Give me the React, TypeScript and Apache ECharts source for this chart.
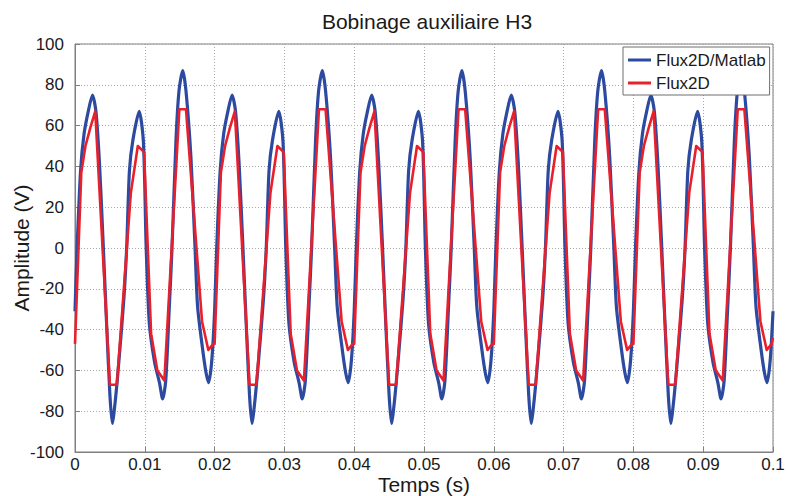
import React, { useEffect, useRef } from 'react';
import * as echarts from 'echarts';

const chartTitle = 'Bobinage auxiliaire H3';
const xAxisName = 'Temps (s)';
const yAxisName = 'Amplitude (V)';
const seriesNames = ['Flux2D/Matlab', 'Flux2D'];

// Flux2D/Matlab (blue) — [time (s), amplitude (V)]
const fluxMatlab: [number, number][] = [
  [0.0000,-31],[0.0003,0],[0.0008,38],[0.0013,56],[0.0019,67],[0.0025,75],[0.0030,67],[0.0035,42],[0.0040,5],[0.0045,-35],[0.0050,-72],[0.00535,-86],[0.0058,-74],[0.0063,-55],[0.0070,-25],[0.0074,0],[0.0078,38],[0.0083,53],[0.0092,67],[0.0098,52],[0.0102,0],[0.01065,-37],[0.0114,-56],[0.0121,-66],[0.01256,-74],[0.0130,-65],[0.01351,-29],[0.0139,0],[0.01447,53],[0.0149,77],[0.01543,87],[0.0159,77],[0.0166,45],[0.0172,0],[0.01757,-29],[0.0183,-50],[0.01877,-61],[0.01915,-66],[0.0196,-55],
  [0.0200,-31],[0.0203,0],[0.0208,38],[0.0213,56],[0.0219,67],[0.0225,75],[0.0230,67],[0.0235,42],[0.0240,5],[0.0245,-35],[0.0250,-72],[0.02535,-86],[0.0258,-74],[0.0263,-55],[0.0270,-25],[0.0274,0],[0.0278,38],[0.0283,53],[0.0292,67],[0.0298,52],[0.0302,0],[0.03065,-37],[0.0314,-56],[0.0321,-66],[0.03256,-74],[0.0330,-65],[0.03351,-29],[0.0339,0],[0.03447,53],[0.0349,77],[0.03543,87],[0.0359,77],[0.0366,45],[0.0372,0],[0.03757,-29],[0.0383,-50],[0.03877,-61],[0.03915,-66],[0.0396,-55],
  [0.0400,-31],[0.0403,0],[0.0408,38],[0.0413,56],[0.0419,67],[0.0425,75],[0.0430,67],[0.0435,42],[0.0440,5],[0.0445,-35],[0.0450,-72],[0.04535,-86],[0.0458,-74],[0.0463,-55],[0.0470,-25],[0.0474,0],[0.0478,38],[0.0483,53],[0.0492,67],[0.0498,52],[0.0502,0],[0.05065,-37],[0.0514,-56],[0.0521,-66],[0.05256,-74],[0.0530,-65],[0.05351,-29],[0.0539,0],[0.05447,53],[0.0549,77],[0.05543,87],[0.0559,77],[0.0566,45],[0.0572,0],[0.05757,-29],[0.0583,-50],[0.05877,-61],[0.05915,-66],[0.0596,-55],
  [0.0600,-31],[0.0603,0],[0.0608,38],[0.0613,56],[0.0619,67],[0.0625,75],[0.0630,67],[0.0635,42],[0.0640,5],[0.0645,-35],[0.0650,-72],[0.06535,-86],[0.0658,-74],[0.0663,-55],[0.0670,-25],[0.0674,0],[0.0678,38],[0.0683,53],[0.0692,67],[0.0698,52],[0.0702,0],[0.07065,-37],[0.0714,-56],[0.0721,-66],[0.07256,-74],[0.0730,-65],[0.07351,-29],[0.0739,0],[0.07447,53],[0.0749,77],[0.07543,87],[0.0759,77],[0.0766,45],[0.0772,0],[0.07757,-29],[0.0783,-50],[0.07877,-61],[0.07915,-66],[0.0796,-55],
  [0.0800,-31],[0.0803,0],[0.0808,38],[0.0813,56],[0.0819,67],[0.0825,75],[0.0830,67],[0.0835,42],[0.0840,5],[0.0845,-35],[0.0850,-72],[0.08535,-86],[0.0858,-74],[0.0863,-55],[0.0870,-25],[0.0874,0],[0.0878,38],[0.0883,53],[0.0892,67],[0.0898,52],[0.0902,0],[0.09065,-37],[0.0914,-56],[0.0921,-66],[0.09256,-74],[0.0930,-65],[0.09351,-29],[0.0939,0],[0.09447,53],[0.0949,77],[0.09543,87],[0.0959,77],[0.0966,45],[0.0972,0],[0.09757,-29],[0.0983,-50],[0.09877,-61],[0.09915,-66],[0.0996,-55],[0.1000,-31],
];

// Flux2D (red) — [time (s), amplitude (V)]
const flux2D: [number, number][] = [
  [0.0000,-47],[0.0009,37],[0.0015,50],[0.0022,59],[0.0029,67],[0.0050,-67],[0.0060,-67],[0.0080,27],[0.0090,50],[0.0099,47],[0.0109,-42],[0.0118,-60],[0.0128,-65],[0.01495,68],[0.0159,68],[0.0182,-36],[0.0191,-50],[0.0198,-47],
  [0.0200,-47],[0.0209,37],[0.0215,50],[0.0222,59],[0.0229,67],[0.0250,-67],[0.0260,-67],[0.0280,27],[0.0290,50],[0.0299,47],[0.0309,-42],[0.0318,-60],[0.0328,-65],[0.03495,68],[0.0359,68],[0.0382,-36],[0.0391,-50],[0.0398,-47],
  [0.0400,-47],[0.0409,37],[0.0415,50],[0.0422,59],[0.0429,67],[0.0450,-67],[0.0460,-67],[0.0480,27],[0.0490,50],[0.0499,47],[0.0509,-42],[0.0518,-60],[0.0528,-65],[0.05495,68],[0.0559,68],[0.0582,-36],[0.0591,-50],[0.0598,-47],
  [0.0600,-47],[0.0609,37],[0.0615,50],[0.0622,59],[0.0629,67],[0.0650,-67],[0.0660,-67],[0.0680,27],[0.0690,50],[0.0699,47],[0.0709,-42],[0.0718,-60],[0.0728,-65],[0.07495,68],[0.0759,68],[0.0782,-36],[0.0791,-50],[0.0798,-47],
  [0.0800,-47],[0.0809,37],[0.0815,50],[0.0822,59],[0.0829,67],[0.0850,-67],[0.0860,-67],[0.0880,27],[0.0890,50],[0.0899,47],[0.0909,-42],[0.0918,-60],[0.0928,-65],[0.09495,68],[0.0959,68],[0.0982,-36],[0.0991,-50],[0.0998,-47],[0.1000,-44],
];

const FONT = '"Liberation Sans", Arial, Helvetica, sans-serif';
const TEXT = '#1a1a1a';
const AXIS = '#7f7f7f';
const BLUE = '#2c4aa0';
const RED = '#e8202c';

export default function App() {
  const ref = useRef<HTMLDivElement>(null);
  useEffect(() => {
    const chart = echarts.init(ref.current!, null, { renderer: 'svg' });
    chart.setOption({
      animation: false,
      backgroundColor: '#ffffff',
      textStyle: { fontFamily: FONT },
      title: {
        text: chartTitle,
        left: 422,
        top: 6,
        textAlign: 'center',
        textStyle: { fontFamily: FONT, fontSize: 21, fontWeight: 'normal', color: TEXT },
      },
      legend: {
        data: seriesNames,
        orient: 'vertical',
        left: 623,
        top: 47,
        padding: [4, 4, 3, 5],
        itemGap: 5,
        itemWidth: 23,
        itemHeight: 3,
        icon: 'rect',
        backgroundColor: '#ffffff',
        borderColor: '#6f6f6f',
        borderWidth: 1,
        textStyle: { fontFamily: FONT, fontSize: 17, color: TEXT, lineHeight: 18 },
      },
      grid: {
        left: 75,
        right: 14,
        top: 44,
        bottom: 44,
        show: true,
        borderColor: AXIS,
        borderWidth: 1,
        backgroundColor: 'transparent',
        outerBoundsMode: 'none',
        containLabel: false,
      },
      xAxis: {
        type: 'value',
        min: 0,
        max: 0.1,
        interval: 0.01,
        name: xAxisName,
        nameLocation: 'middle',
        nameGap: 21,
        nameMoveOverlap: false,
        nameTextStyle: { fontFamily: FONT, fontSize: 21, color: TEXT, lineHeight: 22 },
        axisLine: { show: true, onZero: false, lineStyle: { color: AXIS, width: 1 } },
        axisTick: { show: true, inside: true, length: 5, lineStyle: { color: AXIS } },
        axisLabel: {
          margin: 4,
          fontFamily: FONT,
          fontSize: 17,
          lineHeight: 17,
          color: TEXT,
          formatter: (v: number) => String(+v.toFixed(2)),
        },
        splitLine: { show: true, lineStyle: { color: '#a8a8a8', type: [1, 2], width: 1 } },
      },
      yAxis: {
        type: 'value',
        min: -100,
        max: 100,
        interval: 20,
        name: yAxisName,
        nameLocation: 'middle',
        nameGap: 43,
        nameMoveOverlap: false,
        nameTextStyle: { fontFamily: FONT, fontSize: 21, color: TEXT },
        axisLine: { show: true, onZero: false, lineStyle: { color: AXIS, width: 1 } },
        axisTick: { show: true, inside: true, length: 5, lineStyle: { color: AXIS } },
        axisLabel: { margin: 11, fontFamily: FONT, fontSize: 17, color: TEXT },
        splitLine: { show: true, lineStyle: { color: '#a8a8a8', type: [1, 2], width: 1 } },
      },
      series: [
        {
          name: seriesNames[0],
          type: 'line',
          data: fluxMatlab,
          showSymbol: false,
          symbol: 'none',
          smooth: 0.25,
          color: BLUE,
          lineStyle: { color: BLUE, width: 3.2 },
          z: 2,
        },
        {
          name: seriesNames[1],
          type: 'line',
          data: flux2D,
          showSymbol: false,
          symbol: 'none',
          color: RED,
          lineStyle: { color: RED, width: 2.6, join: 'round' },
          z: 3,
        },
      ],
    });
    return () => chart.dispose();
  }, []);
  return (
    <div
      ref={ref}
      style={{ position: 'fixed', left: 0, top: 0, width: 787, height: 496, background: '#fff' }}
    />
  );
}
